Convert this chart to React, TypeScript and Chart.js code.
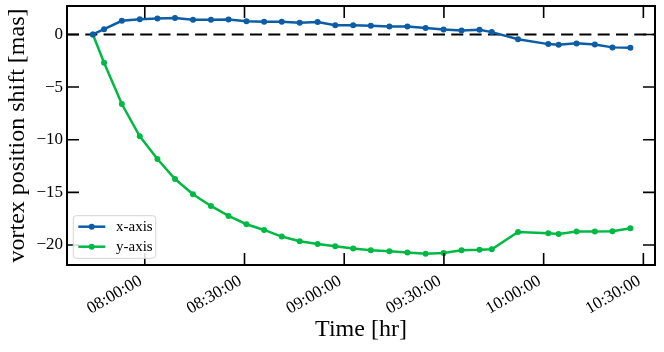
import React, { useEffect, useRef } from "react";
import { Chart, registerables } from "chart.js";

Chart.register(...registerables);

// time of each observation, minutes since midnight
const timeMinutes = [
  464.4, 467.75, 473.1, 478.5, 483.8, 489.1, 494.5, 499.9, 505.2, 510.6,
  515.9, 521.2, 526.6, 532.0, 537.3, 542.7, 548.0, 553.6, 559.0, 564.5,
  569.9, 575.3, 580.7, 584.4, 592.3, 601.4, 604.5, 609.9, 615.4, 620.7, 626.1,
];
const xAxisShift = [
  0, 0.5, 1.29, 1.45, 1.52, 1.57, 1.39, 1.39, 1.42, 1.26,
  1.2, 1.2, 1.1, 1.17, 0.88, 0.88, 0.82, 0.76, 0.76, 0.6,
  0.47, 0.38, 0.44, 0.22, -0.45, -0.92, -0.99, -0.85, -0.95, -1.23, -1.27,
];
const yAxisShift = [
  0, -2.69, -6.61, -9.68, -11.83, -13.73, -15.18, -16.29, -17.24, -18.03,
  -18.57, -19.2, -19.64, -19.9, -20.11, -20.34, -20.49, -20.6, -20.72, -20.82,
  -20.75, -20.49, -20.46, -20.4, -18.76, -18.88, -18.95, -18.73, -18.73, -18.69, -18.4,
];
const seriesLabels = ["x-axis", "y-axis"];
const seriesColors = ["#0C5DA5", "#00B945"];
const xTickMinutes = [480, 510, 540, 570, 600, 630];
const yTickValues = [0, -5, -10, -15, -20];
const xRange = [456.6, 633.5];
const yRange = [-21.9, 2.7];

const FONT = "'Liberation Serif', 'Times New Roman', serif";

const pad2 = (n: number) => String(n).padStart(2, "0");
const fmtTime = (m: number) => {
  const h = Math.floor(m / 60);
  const mm = Math.round(m - h * 60);
  return `${pad2(h)}:${pad2(mm)}:00`;
};

const framePlugin = {
  id: "frameTicks",
  beforeDatasetsDraw(chart: any) {
    const { ctx, chartArea } = chart;
    const y0 = chart.scales.y.getPixelForValue(0);
    ctx.save();
    ctx.strokeStyle = "#000";
    ctx.lineWidth = 2;
    ctx.setLineDash([12, 6.3]);
    ctx.beginPath();
    ctx.moveTo(chartArea.left, y0);
    ctx.lineTo(chartArea.right, y0);
    ctx.stroke();
    ctx.restore();
  },
  afterDraw(chart: any) {
    const { ctx, chartArea } = chart;
    const { left, right, top, bottom } = chartArea;
    const len = 12;
    ctx.save();
    ctx.strokeStyle = "#000";
    ctx.lineWidth = 1.6;
    ctx.beginPath();
    chart.scales.x.ticks.forEach((t: any) => {
      const px = chart.scales.x.getPixelForValue(t.value);
      ctx.moveTo(px, bottom);
      ctx.lineTo(px, bottom - len);
      ctx.moveTo(px, top);
      ctx.lineTo(px, top + len);
    });
    chart.scales.y.ticks.forEach((t: any) => {
      const py = chart.scales.y.getPixelForValue(t.value);
      ctx.moveTo(left, py);
      ctx.lineTo(left + len, py);
      ctx.moveTo(right, py);
      ctx.lineTo(right - len, py);
    });
    ctx.stroke();
    ctx.lineWidth = 2;
    ctx.strokeRect(left, top, right - left, bottom - top);

    // legend
    const bx = left + 6.3;
    const by = bottom - 49.3;
    const bw = 82.4;
    const bh = 42.6;
    ctx.fillStyle = "rgba(255,255,255,0.85)";
    ctx.strokeStyle = "#d4d4d4";
    ctx.lineWidth = 1;
    ctx.beginPath();
    if (ctx.roundRect) ctx.roundRect(bx, by, bw, bh, 3);
    else ctx.rect(bx, by, bw, bh);
    ctx.fill();
    ctx.stroke();
    chart.data.datasets.forEach((ds: any, i: number) => {
      const ry = by + 11 + i * 20;
      ctx.strokeStyle = ds.borderColor;
      ctx.lineWidth = 2.5;
      ctx.beginPath();
      ctx.moveTo(bx + 5, ry);
      ctx.lineTo(bx + 32, ry);
      ctx.stroke();
      ctx.fillStyle = ds.borderColor;
      ctx.beginPath();
      ctx.arc(bx + 18.4, ry, 3, 0, Math.PI * 2);
      ctx.fill();
      ctx.fillStyle = "#000";
      ctx.font = `15px ${FONT}`;
      ctx.textAlign = "left";
      ctx.textBaseline = "middle";
      ctx.fillText(ds.label, bx + 42.7, ry);
    });
    ctx.restore();
  },
};

export default function App() {
  const canvasRef = useRef<HTMLCanvasElement | null>(null);

  useEffect(() => {
    document.body.style.margin = "0";
    const canvas = canvasRef.current;
    if (!canvas) return;
    const seriesValues = [xAxisShift, yAxisShift];
    const chart = new Chart(canvas, {
      type: "line",
      data: {
        datasets: seriesValues.map((vals, i) => ({
          label: seriesLabels[i],
          data: timeMinutes.map((t, k) => ({ x: t, y: vals[k] })),
          borderColor: seriesColors[i],
          backgroundColor: seriesColors[i],
          borderWidth: 2.5,
          pointRadius: 3,
          pointBorderWidth: 0,
          pointBackgroundColor: seriesColors[i],
          tension: 0,
          fill: false,
        })),
      },
      options: {
        animation: false,
        responsive: false,
        maintainAspectRatio: false,
        layout: { padding: { left: 0, right: 9, top: 6, bottom: 0 } },
        plugins: {
          legend: { display: false },
          tooltip: { enabled: false },
        },
        scales: {
          x: {
            type: "linear",
            min: xRange[0],
            max: xRange[1],
            afterBuildTicks: (scale: any) => {
              scale.ticks = xTickMinutes.map((v) => ({ value: v }));
            },
            afterFit: (scale: any) => {
              scale.height = 87;
              scale.paddingLeft = 0;
              scale.paddingRight = 0;
            },
            grid: { display: false, drawTicks: false },
            border: { display: false },
            ticks: {
              minRotation: 30,
              maxRotation: 30,
              padding: 6,
              labelOffset: -4,
              color: "#000",
              font: { family: FONT, size: 17 },
              callback: (v: any) => fmtTime(Number(v)),
            },
            title: {
              display: true,
              text: "Time [hr]",
              color: "#000",
              font: { family: FONT, size: 24 },
              padding: { top: 0, bottom: 8 },
            },
          },
          y: {
            type: "linear",
            min: yRange[0],
            max: yRange[1],
            afterBuildTicks: (scale: any) => {
              scale.ticks = yTickValues.map((v) => ({ value: v }));
            },
            afterFit: (scale: any) => {
              scale.width = 67;
              scale.paddingTop = 0;
              scale.paddingBottom = 0;
            },
            grid: { display: false, drawTicks: false },
            border: { display: false },
            ticks: {
              padding: 4,
              color: "#000",
              font: { family: FONT, size: 17 },
              callback: (v: any) => String(v).replace("-", "\u2212"),
            },
            title: {
              display: true,
              text: "vortex position shift [mas]",
              color: "#000",
              font: { family: FONT, size: 24 },
              padding: { top: 3, bottom: 0 },
            },
          },
        },
      },
      plugins: [framePlugin],
    } as any);
    return () => chart.destroy();
  }, []);

  return (
    <div style={{ width: 664, height: 352, background: "#fff" }}>
      <canvas ref={canvasRef} width={664} height={352} style={{ display: "block" }} />
    </div>
  );
}
